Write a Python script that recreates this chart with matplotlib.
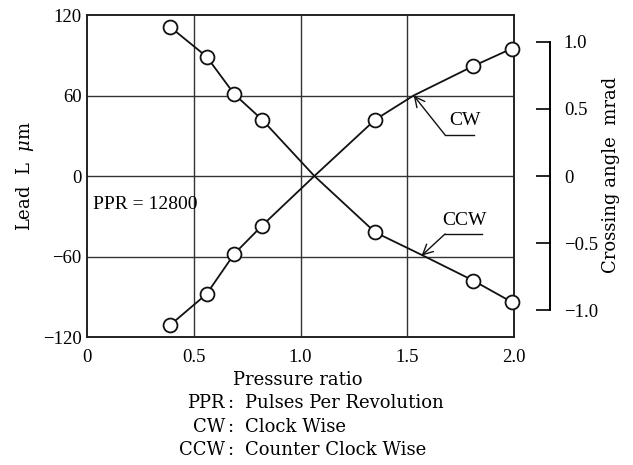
import matplotlib
matplotlib.use("Agg")
import matplotlib.pyplot as plt

plt.rcParams['font.family'] = ['Liberation Serif', 'DejaVu Serif']
plt.rcParams['mathtext.fontset'] = 'dejavuserif'

# measured points (open circles)
pressure = [0.39, 0.56, 0.69, 0.82, 1.35, 1.81, 1.99]
cw_lead = [-111, -88, -58, -37, 42, 82, 95]
ccw_lead = [111, 89, 61, 42, -42, -78, -94]

# curve traces
cw_curve_x = [0.39, 0.56, 0.69, 0.82, 1.065, 1.35, 1.53, 1.81, 1.99]
cw_curve_y = [-111, -88, -58, -37, 0, 42, 60, 82, 95]
ccw_curve_x = [0.39, 0.56, 0.69, 0.82, 1.065, 1.35, 1.57, 1.81, 1.99]
ccw_curve_y = [111, 89, 61, 42, 0, -42, -59, -78, -94]

x_ticks = [0, 0.5, 1.0, 1.5, 2.0]
x_labels = ['0', '0.5', '1.0', '1.5', '2.0']
y_ticks = [-120, -60, 0, 60, 120]
y_labels = ['\u2212120', '\u221260', '0', '60', '120']
r_ticks = [-1.0, -0.5, 0, 0.5, 1.0]
r_labels = ['\u22121.0', '\u22120.5', '0', '0.5', '1.0']

label_font = 'DejaVu Serif'

fig = plt.figure(figsize=(6.33, 4.65), dpi=100)
ax = fig.add_axes([87/633, 1-337/465, 427/633, 322/465])

ax.set_xlim(0, 2.0)
ax.set_ylim(-120, 120)
ax.set_xticks(x_ticks)
ax.set_xticklabels(x_labels)
ax.set_yticks(y_ticks)
ax.set_yticklabels(y_labels)
ax.tick_params(length=0, labelsize=13.5, pad=4)
ax.tick_params(axis='x', pad=9)
for s in ax.spines.values():
    s.set_linewidth(1.4)
    s.set_color('#222222')

for v in [0.5, 1.0, 1.5]:
    ax.axvline(v, color='#333333', lw=1.0, zorder=1)
for v in [-60, 0, 60]:
    ax.axhline(v, color='#333333', lw=1.0, zorder=1)

ax.plot(cw_curve_x, cw_curve_y, color='#111111', lw=1.3, zorder=2)
ax.plot(ccw_curve_x, ccw_curve_y, color='#111111', lw=1.3, zorder=2)
ax.plot(pressure, cw_lead, 'o', ms=10, mfc='white', mec='#111111', mew=1.3,
        zorder=3, clip_on=False)
ax.plot(pressure, ccw_lead, 'o', ms=10, mfc='white', mec='#111111', mew=1.3,
        zorder=3, clip_on=False)

ax.text(0.03, -21, 'PPR = 12800', fontsize=14, va='center', ha='left')

# leaders
ax.plot([1.677, 1.814], [30.6, 30.6], color='#111111', lw=1.0)
ax.annotate('', xy=(1.53, 60), xytext=(1.677, 30.6),
            arrowprops=dict(arrowstyle='->', color='#111111', lw=1.0,
                            mutation_scale=18, shrinkA=0, shrinkB=0))
ax.text(1.77, 41, 'CW', fontsize=14, ha='center', va='center')

ax.plot([1.677, 1.848], [-43.2, -43.2], color='#111111', lw=1.0)
ax.annotate('', xy=(1.567, -59.4), xytext=(1.677, -43.2),
            arrowprops=dict(arrowstyle='->', color='#111111', lw=1.0,
                            mutation_scale=18, shrinkA=0, shrinkB=0))
ax.text(1.77, -33, 'CCW', fontsize=14, ha='center', va='center')

# right hand axis: crossing angle (1 mrad = 100 um)
ax2 = ax.twinx()
ax2.set_ylim(-1.2, 1.2)
ax2.set_yticks(r_ticks)
ax2.set_yticklabels(r_labels)
ax2.spines['right'].set_position(('axes', (550-87)/427))
ax2.spines['right'].set_bounds(-1.0, 1.0)
ax2.spines['right'].set_linewidth(1.4)
for k in ['top', 'bottom', 'left']:
    ax2.spines[k].set_visible(False)
ax2.tick_params(axis='y', direction='in', length=10, width=1.2, pad=10, labelsize=13.5)

fig.text(25/633, 1-176/465, 'Lead  L  $\\mu$m', rotation=90, ha='center', va='center',
         fontsize=13, family=label_font)
fig.text(611/633, 1-175/465, 'Crossing angle  mrad', rotation=90, ha='center', va='center',
         fontsize=13, family=label_font)

fig.text(298/633, 1-380/465, 'Pressure ratio', ha='center', va='center', fontsize=13,
         family=label_font)
rows = [('PPR', 'Pulses Per Revolution', 403),
        ('CW', 'Clock Wise', 427),
        ('CCW', 'Counter Clock Wise', 450)]
for left, right, ypix in rows:
    fig.text(225/633, 1-ypix/465, left, ha='right', va='center', fontsize=13, family=label_font)
    fig.text(230/633, 1-ypix/465, ':', ha='center', va='center', fontsize=13, family=label_font)
    fig.text(245/633, 1-ypix/465, right, ha='left', va='center', fontsize=13, family=label_font)

fig.savefig('out.png', dpi=100, facecolor='white')
